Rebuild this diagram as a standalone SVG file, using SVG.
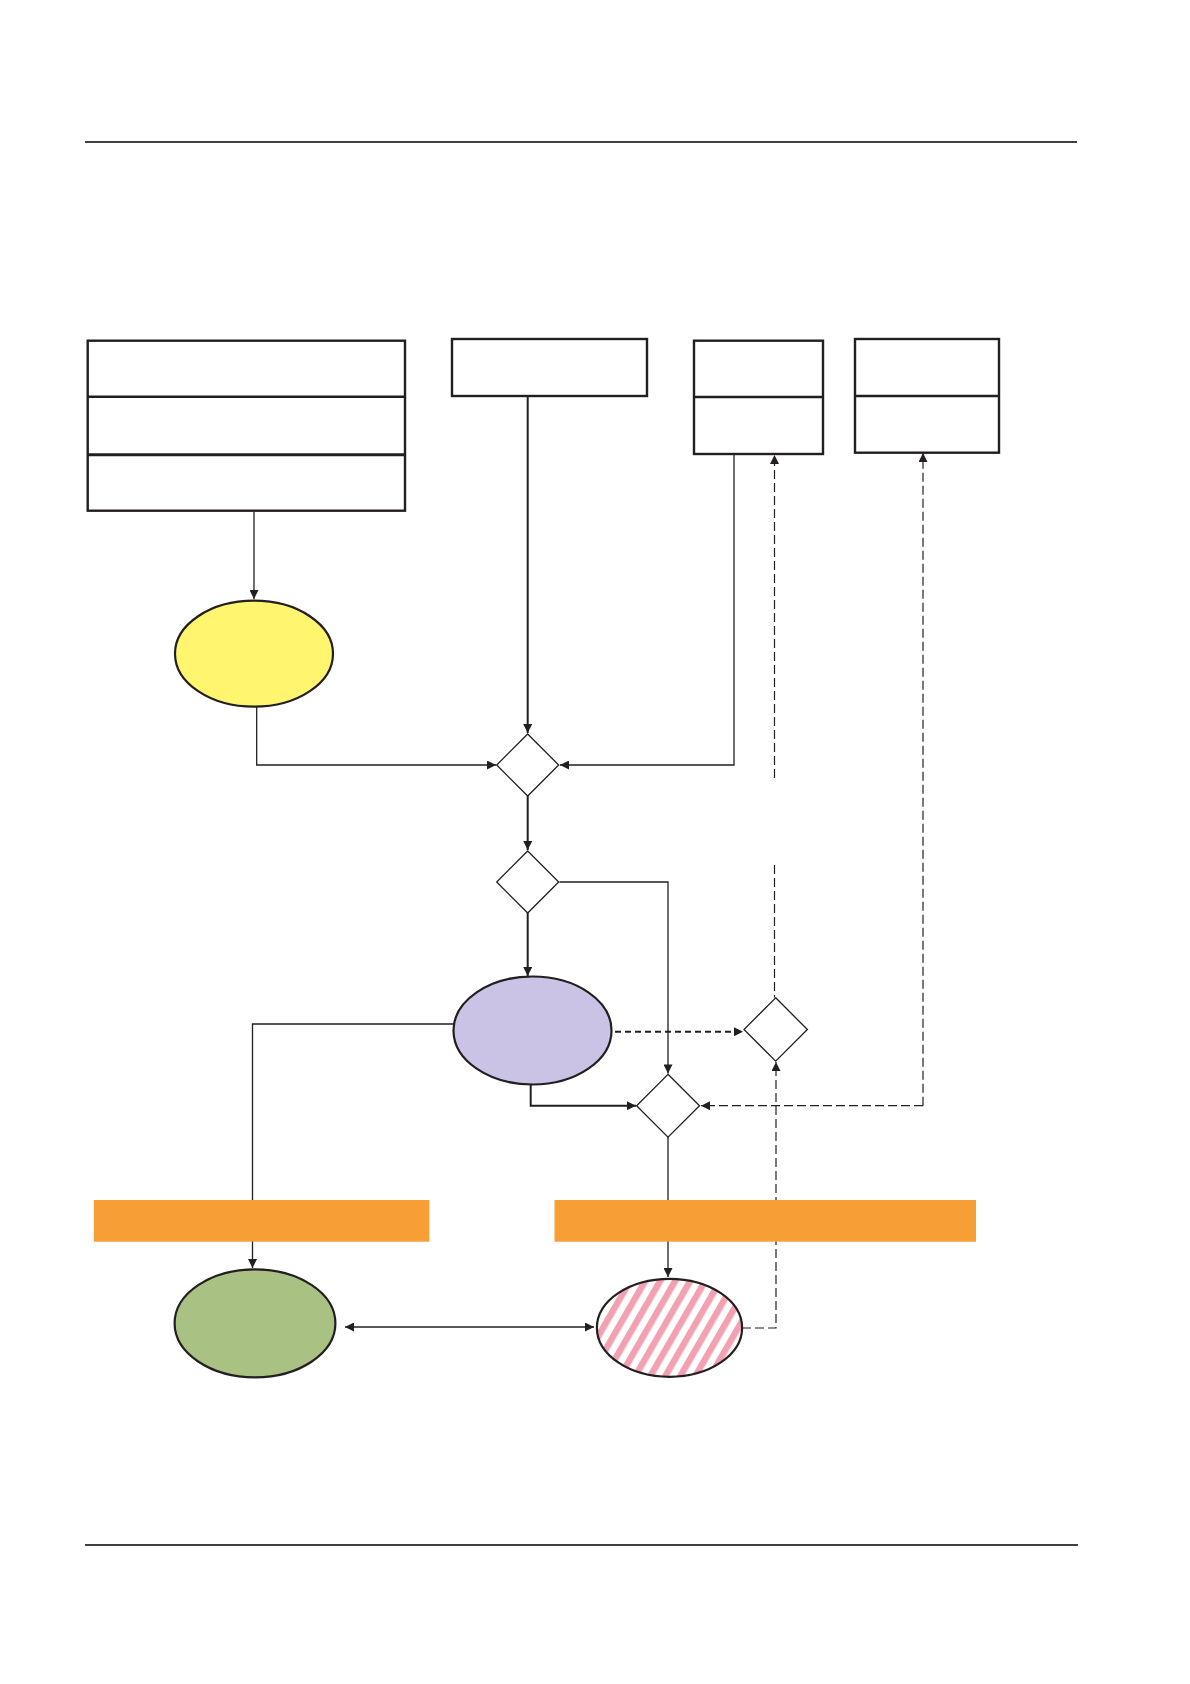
<svg xmlns="http://www.w3.org/2000/svg" width="1190" height="1684" viewBox="0 0 1190 1684">
<style>
.box{fill:#fff;stroke:#231f20;stroke-width:2.4}
.dia{fill:#fff;stroke:#231f20;stroke-width:1.3}
.ell{stroke:#231f20;stroke-width:2.2}
.c{fill:none;stroke:#231f20;stroke-width:1.3}
.ct{fill:none;stroke:#231f20;stroke-width:2}
.d{fill:none;stroke:#231f20;stroke-width:1.2;stroke-dasharray:9 4}
.dt{fill:none;stroke:#231f20;stroke-width:2;stroke-dasharray:6 4}
.rule{stroke:#000;stroke-width:1.5}
.bar{fill:#f79e34}
</style>
<defs>
<marker id="a" viewBox="0 0 10 10" refX="10" refY="5" markerWidth="11" markerHeight="9" markerUnits="userSpaceOnUse" orient="auto-start-reverse"><path d="M0,0L10,5L0,10z" fill="#231f20"/></marker>
<pattern id="stripes" patternUnits="userSpaceOnUse" width="13" height="20" patternTransform="rotate(30)">
<rect width="13" height="20" fill="#fff"/>
<rect width="6.5" height="20" fill="#f2a1b3"/>
</pattern>
</defs>
<line class="rule" x1="85" y1="142" x2="1077" y2="142"/>
<line class="rule" x1="85" y1="1545" x2="1078" y2="1545"/>
<g id="connectors">
<path class="c" d="M254,512V599" marker-end="url(#a)"/>
<path class="ct" d="M527.7,396V733" marker-end="url(#a)"/>
<path class="c" d="M256.7,707V765H496" marker-end="url(#a)"/>
<path class="c" d="M734,454V765H560" marker-end="url(#a)"/>
<path class="ct" d="M527.7,796V850" marker-end="url(#a)"/>
<path class="ct" d="M527.7,913V976" marker-end="url(#a)"/>
<path class="c" d="M559.5,882H668V1073.5" marker-end="url(#a)"/>
<path class="ct" d="M530.7,1084V1105.7H636" marker-end="url(#a)"/>
<path class="dt" d="M615,1031.7H743" marker-end="url(#a)"/>
<path class="d" d="M923,1105.7V453" marker-end="url(#a)"/>
<path class="d" d="M923,1105.7H701" marker-end="url(#a)"/>
<path class="d" d="M774.5,778V455" marker-end="url(#a)"/>
<path class="d" d="M774.5,865V997.5"/>
<path class="d" d="M742,1328H776V1062" marker-end="url(#a)"/>
<path class="c" d="M453.5,1024H252.5V1268" marker-end="url(#a)"/>
<path class="c" d="M668,1137V1277" marker-end="url(#a)"/>
<path class="c" d="M345,1327H594" marker-start="url(#a)" marker-end="url(#a)"/>
</g>
<g id="box1">
<rect class="box" x="87.7" y="340.7" width="317.3" height="170"/>
<line class="box" x1="87.7" y1="396.7" x2="405" y2="396.7"/>
<line class="box" x1="87.7" y1="454.7" x2="405" y2="454.7" style="stroke-width:3"/>
</g>
<g id="box2"><rect class="box" x="452" y="339" width="195" height="57"/></g>
<g id="box3">
<rect class="box" x="694" y="340.7" width="129" height="113.3"/>
<line class="box" x1="694" y1="397" x2="823" y2="397"/>
</g>
<g id="box4">
<rect class="box" x="855" y="339" width="144" height="113.7"/>
<line class="box" x1="855" y1="396" x2="999" y2="396"/>
</g>
<g id="yellow"><ellipse class="ell" cx="254" cy="653.7" rx="79" ry="53" fill="#fff56e"/></g>
<g id="dia1"><path class="dia" d="M527.7,734L558.7,765L527.7,796L496.7,765Z"/></g>
<g id="dia2"><path class="dia" d="M527.7,851L558.7,882L527.7,913L496.7,882Z"/></g>
<g id="purple"><ellipse class="ell" cx="532.5" cy="1030.5" rx="79" ry="54" fill="#cbc3e6"/></g>
<g id="dia3"><path class="dia" d="M668,1074.3L699.5,1105.7L668,1137.2L636.6,1105.7Z"/></g>
<g id="dia4"><path class="dia" d="M775.7,997.8L807.4,1029.5L775.7,1061.2L744,1029.5Z"/></g>
<g id="bar1"><rect class="bar" x="93.9" y="1200" width="335.5" height="41.7"/></g>
<g id="bar2"><rect class="bar" x="554.5" y="1200" width="421.5" height="41.7"/></g>
<g id="green"><ellipse class="ell" cx="255" cy="1323.3" rx="80.4" ry="54" fill="#a9c283"/></g>
<g id="pink"><ellipse class="ell" cx="669.5" cy="1327.8" rx="72.6" ry="49" fill="url(#stripes)"/></g>
</svg>
